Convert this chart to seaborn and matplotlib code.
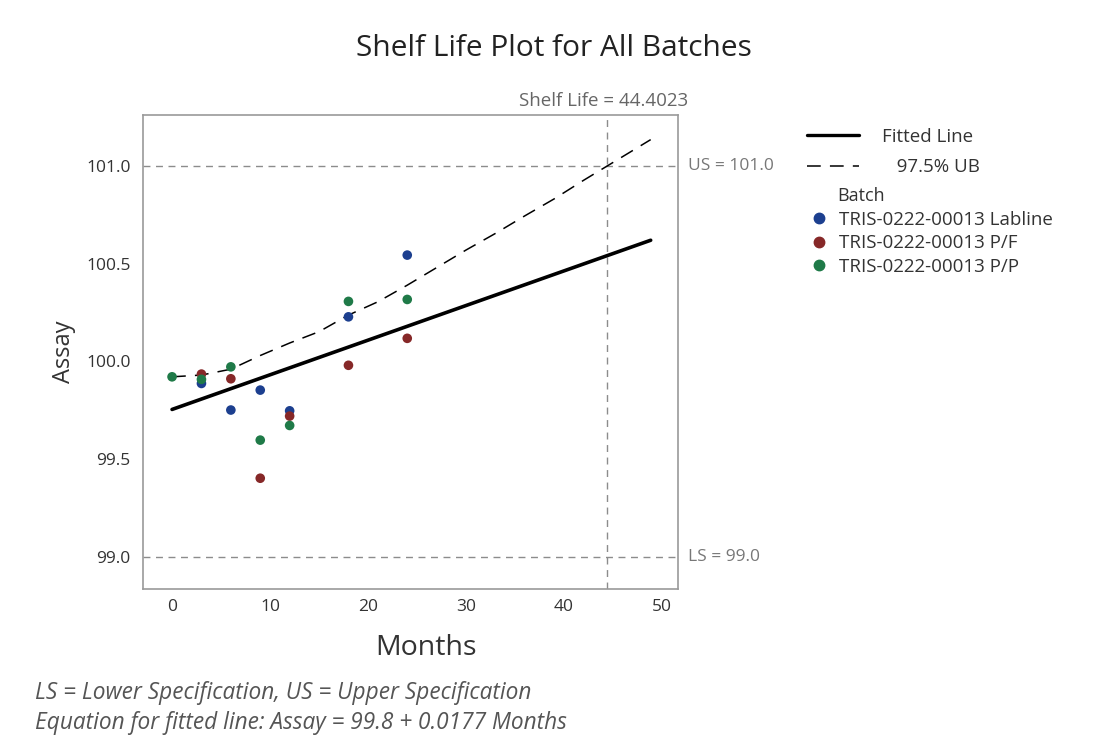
import numpy as np
import pandas as pd
import matplotlib
matplotlib.use("Agg")
import matplotlib.pyplot as plt
from matplotlib.lines import Line2D
import seaborn as sns

batches = ["TRIS-0222-00013 Labline", "TRIS-0222-00013 P/F", "TRIS-0222-00013 P/P"]
months_lab = [3, 6, 9, 12, 18, 24]
assay_lab = [99.887, 99.751, 99.853, 99.747, 100.228, 100.544]
months_pf = [3, 6, 9, 12, 18, 24]
assay_pf = [99.935, 99.911, 99.402, 99.720, 99.980, 100.118]
months_pp = [0, 3, 6, 9, 12, 18, 24]
assay_pp = [99.921, 99.908, 99.972, 99.597, 99.672, 100.307, 100.317]
colors = ["#1c3f8f", "#862828", "#1f7a48"]

# fitted line and 97.5% upper bound
fit_months = [0, 48.84]
fit_assay = [99.754, 100.62]
ub_months = [0, 3, 6, 9, 12, 15, 18, 21, 24, 27, 30, 33, 36, 39, 42, 44.4, 48.84]
ub_assay = [99.921, 99.93, 99.96, 100.03, 100.094, 100.152, 100.237, 100.305,
            100.39, 100.48, 100.57, 100.655, 100.745, 100.832, 100.927, 101.0, 101.135]

lower_spec = 99.0
upper_spec = 101.0
shelf_life = 44.4023

df = pd.DataFrame({
    "Months": months_lab + months_pf + months_pp,
    "Assay": assay_lab + assay_pf + assay_pp,
    "Batch": [batches[0]] * len(months_lab) + [batches[1]] * len(months_pf)
             + [batches[2]] * len(months_pp),
})

sns.set_style("white")
plt.rcParams["font.family"] = ["Open Sans", "DejaVu Sans"]

fig = plt.figure(figsize=(11.02, 7.42), dpi=100)
ax = fig.add_axes([0.1298, 0.2062, 0.4852, 0.6388])

grey = "#8c8c8c"
ax.axhline(upper_spec, color=grey, lw=1, dashes=(5, 4), zorder=1)
ax.axhline(lower_spec, color=grey, lw=1, dashes=(5, 4), zorder=1)
ax.axvline(shelf_life, color=grey, lw=1, dashes=(5, 4), zorder=1)

sns.lineplot(x=fit_months, y=fit_assay, color="black", lw=2.6, ax=ax, zorder=3)
sns.lineplot(x=ub_months, y=ub_assay, color="black", lw=1.1, ax=ax, zorder=3,
             dashes=False).lines[-1].set_dashes((9, 6))

sns.scatterplot(data=df, x="Months", y="Assay", hue="Batch", hue_order=batches,
                palette=colors, s=48, edgecolor="none", ax=ax, zorder=4, legend=False)

ax.set_xlim(-2.96, 51.6)
ax.set_ylim(98.835, 101.261)
ax.set_xticks([0, 10, 20, 30, 40, 50])
ax.set_yticks([99.0, 99.5, 100.0, 100.5, 101.0])
ax.set_yticklabels(["99.0", "99.5", "100.0", "100.5", "101.0"])
for s in ax.spines.values():
    s.set_color("#9a9a9a")
    s.set_linewidth(1.2)
ax.tick_params(axis="both", length=4, color="#9a9a9a", labelsize=12.5,
               labelcolor="#333333", direction="out")
ax.tick_params(axis="y", pad=5)
ax.tick_params(axis="x", pad=3)
ax.set_xlabel("Months", fontsize=20.5, color="#333333")
ax.xaxis.set_label_coords(0.53, -0.094)
ax.set_ylabel("Assay", fontsize=17, color="#333333", labelpad=7)

ax.text(1.02, upper_spec, "US = 101.0", transform=ax.get_yaxis_transform(),
        va="center", ha="left", fontsize=12.5, color="#777777")
ax.text(1.02, lower_spec, "LS = 99.0", transform=ax.get_yaxis_transform(),
        va="center", ha="left", fontsize=12.5, color="#777777")
ax.text(shelf_life - 0.4, 1.01, "Shelf Life = 44.4023", transform=ax.get_xaxis_transform(),
        va="bottom", ha="center", fontsize=13.5, color="#666666")

fig.text(0.503, 0.935, "Shelf Life Plot for All Batches", ha="center", va="center",
         fontsize=21.5, color="#222222")

h1 = [Line2D([], [], color="black", lw=2.4),
      Line2D([], [], color="black", lw=1.1, dashes=(9, 6))]
leg1 = fig.legend(h1, ["Fitted Line", "   97.5% UB"], loc="upper left",
                  bbox_to_anchor=(0.727, 1 - 122 / 742), frameon=False, fontsize=13.5,
                  handlelength=2.8, handletextpad=1.2, labelspacing=0.68,
                  labelcolor="#333333", borderaxespad=0, borderpad=0.3)
fig.text(0.760, 1 - 196 / 742, "Batch", fontsize=13, color="#333333",
         ha="left", va="center")
h2 = [Line2D([], [], ls="none", marker="o", markersize=7.5, color=c) for c in colors]
leg2 = fig.legend(h2, batches, loc="upper left", bbox_to_anchor=(0.731, 1 - 205 / 742),
                  frameon=False, fontsize=13.5, handlelength=0.8, handletextpad=0.7,
                  labelspacing=0.3, labelcolor="#333333", borderaxespad=0,
                  borderpad=0.3)

fig.text(0.032, 1 - 693 / 742, "LS = Lower Specification, US = Upper Specification",
         fontsize=16.3, style="italic", color="#555555", va="center")
fig.text(0.032, 1 - 723 / 742, "Equation for fitted line: Assay = 99.8 + 0.0177 Months",
         fontsize=16.3, style="italic", color="#555555", va="center")

fig.savefig("out.png", dpi=100)
